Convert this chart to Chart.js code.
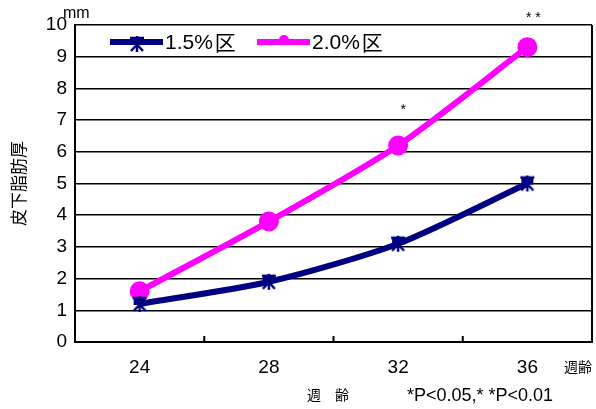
<!DOCTYPE html>
<html>
<head>
    <title>皮下脂肪厚</title>
    <script src="https://cdn.jsdelivr.net/npm/chart.js@4.4.0/dist/chart.umd.min.js"></script>
    <style>
        body { margin: 0; background: #fff; }
        #wrap { width: 596px; height: 409px; }
    </style>
</head>
<body>
<div id="wrap"><canvas id="chart" width="596" height="409"></canvas></div>
<script>
    // data
    const weeks = ['24', '28', '32', '36'];
    const group15 = [1.2, 1.9, 3.1, 5.0];
    const group20 = [1.6, 3.8, 6.2, 9.3];
    const seriesNames = ['1.5%区', '2.0%区'];
    const sigMarks = ['', '', '*', '* *'];   // above 2.0% points

    const NUM_FONT = '"Liberation Sans", Arial, sans-serif';
    const JP_FONT = '"Noto Sans CJK JP", sans-serif';
    const NAVY = '#000080';
    const MAGENTA = '#ff00ff';

    // Excel-like star marker
    function starMarker(size, color) {
        const c = document.createElement('canvas');
        c.width = size; c.height = size;
        const g = c.getContext('2d');
        const m = size / 2;
        g.strokeStyle = color;
        g.lineWidth = 2.5;
        g.beginPath();
        g.moveTo(2, 3); g.lineTo(size - 2, 3);
        g.moveTo(m, 1); g.lineTo(m, size - 1);
        g.moveTo(3, 3); g.lineTo(size - 3, size - 2);
        g.moveTo(size - 3, 3); g.lineTo(3, size - 2);
        g.stroke();
        g.fillStyle = color;
        g.fillRect(3, 2, size - 6, size / 2 - 1);
        return c;
    }
    const star = starMarker(18, NAVY);

    const extras = {
        id: 'extras',
        beforeDatasetsDraw(chart) {
            const { ctx, chartArea: a, scales } = chart;
            ctx.save();
            ctx.strokeStyle = '#000';
            ctx.lineWidth = 2;
            // right frame
            ctx.beginPath();
            ctx.moveTo(a.right, a.top);
            ctx.lineTo(a.right, a.bottom + 1);
            ctx.stroke();
            // short tick marks between categories
            const x = scales.x;
            for (let i = 0; i < weeks.length - 1; i++) {
                const px = (x.getPixelForValue(i) + x.getPixelForValue(i + 1)) / 2;
                ctx.beginPath();
                ctx.moveTo(px, a.bottom);
                ctx.lineTo(px, a.bottom - 6);
                ctx.stroke();
            }
            ctx.restore();
        },
        afterDraw(chart) {
            const { ctx, chartArea: a, scales } = chart;
            ctx.save();
            ctx.fillStyle = '#000';
            ctx.textBaseline = 'middle';

            // significance marks
            ctx.font = '14px ' + NUM_FONT;
            ctx.textAlign = 'center';
            const dx = [0, 0, 5, 6];
            const dy = [0, 0, -35, -29];
            sigMarks.forEach((s, i) => {
                if (!s) return;
                const px = scales.x.getPixelForValue(i);
                const py = scales.y.getPixelForValue(group20[i]);
                ctx.fillText(s, px + dx[i], py + dy[i]);
            });

            // legend inside the plot
            const ly = a.top + 17;
            const items = [
                { x: a.left + 35, color: NAVY, text: seriesNames[0], marker: 'star' },
                { x: a.left + 182, color: MAGENTA, text: seriesNames[1], marker: 'circle' }
            ];
            items.forEach(it => {
                ctx.strokeStyle = it.color;
                ctx.lineWidth = 6;
                ctx.beginPath();
                ctx.moveTo(it.x, ly);
                ctx.lineTo(it.x + 53, ly);
                ctx.stroke();
                if (it.marker === 'star') {
                    ctx.drawImage(star, it.x + 18, ly - 7);
                } else {
                    ctx.fillStyle = it.color;
                    ctx.beginPath();
                    ctx.arc(it.x + 27, ly - 2, 5, Math.PI, 0);
                    ctx.fill();
                }
                ctx.fillStyle = '#000';
                ctx.textAlign = 'left';
                ctx.font = '21px ' + NUM_FONT;
                const num = it.text.replace('区', '');
                ctx.fillText(num, it.x + 55, ly + 1);
                const w = ctx.measureText(num).width;
                ctx.font = '21px ' + JP_FONT;
                ctx.fillText('区', it.x + 57 + w, ly);
            });

            // loose labels
            ctx.textAlign = 'left';
            ctx.font = '16px ' + NUM_FONT;
            ctx.fillText('mm', a.left - 12, 14);
            ctx.font = '14px ' + JP_FONT;
            ctx.fillText('週齢', 564, 367);
            ctx.fillText('週　齢', 307, 395);
            ctx.font = '18px ' + NUM_FONT;
            ctx.fillText('*P<0.05,* *P<0.01', 407, 396);
            ctx.restore();
        }
    };

    new Chart(document.getElementById('chart'), {
        type: 'line',
        data: {
            labels: weeks,
            datasets: [
                {
                    label: seriesNames[0],
                    data: group15,
                    borderColor: NAVY,
                    backgroundColor: NAVY,
                    borderWidth: 6,
                    tension: 0.25,
                    pointStyle: star,
                    pointRadius: 9
                },
                {
                    label: seriesNames[1],
                    data: group20,
                    borderColor: MAGENTA,
                    backgroundColor: MAGENTA,
                    borderWidth: 6,
                    tension: 0.25,
                    pointStyle: 'circle',
                    pointRadius: 7
                }
            ]
        },
        options: {
            responsive: false,
            animation: false,
            layout: { autoPadding: false, padding: { left: 0, top: 25, right: 4, bottom: 0 } },
            plugins: {
                legend: { display: false },
                tooltip: { enabled: false }
            },
            scales: {
                x: {
                    offset: true,
                    grid: { display: false, drawTicks: false },
                    border: { display: true, color: '#000', width: 2 },
                    ticks: { color: '#000', font: { size: 19, family: NUM_FONT }, padding: 14 },
                    afterFit(s) {
                        s.height = 67;
                        s.paddingLeft = 0;
                        s.paddingRight = 0;
                    }
                },
                y: {
                    min: 0,
                    max: 10,
                    ticks: { stepSize: 1, color: '#000', font: { size: 19, family: NUM_FONT }, padding: 8 },
                    grid: { color: '#000', lineWidth: 1.5, drawTicks: false },
                    border: { display: true, color: '#000', width: 2 },
                    title: {
                        display: true,
                        text: '皮下脂肪厚',
                        color: '#000',
                        font: { size: 17, family: JP_FONT },
                        padding: { top: 8, bottom: 6 }
                    },
                    afterFit(s) { s.width = 75; }
                }
            }
        },
        plugins: [extras]
    });
</script>
</body>
</html>
